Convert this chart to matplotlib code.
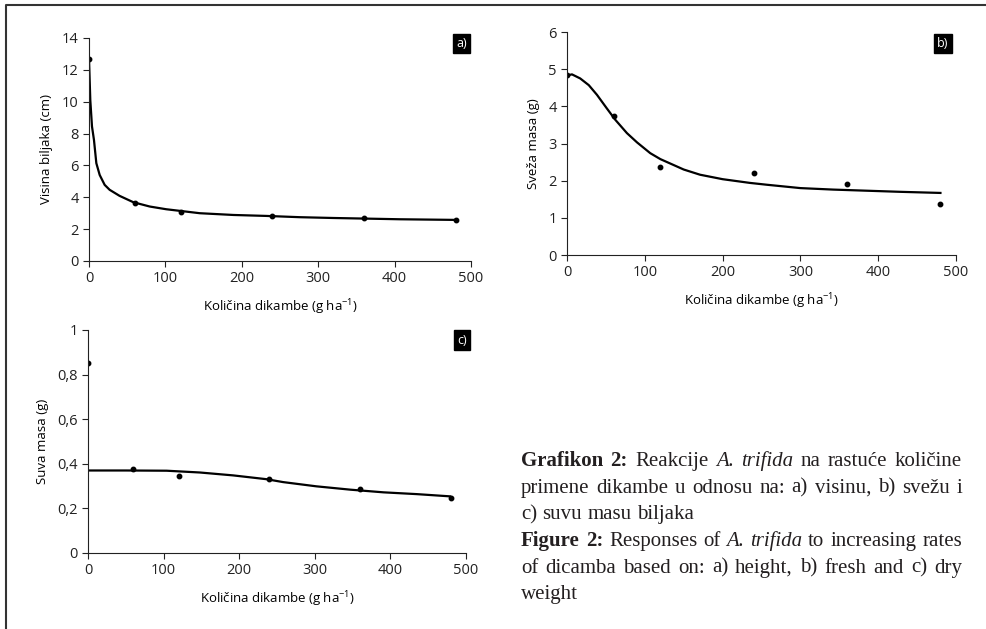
import matplotlib
matplotlib.use('Agg')
import matplotlib.pyplot as plt
from matplotlib.lines import Line2D
from matplotlib.ticker import FuncFormatter
import numpy as np

# ----------------------------------------------------------------------------------------------------------------------
#  DATA
# ----------------------------------------------------------------------------------------------------------------------
dose = [0, 60, 120, 240, 360, 480]

# a) plant height (cm)
height_obs   = [12.7, 3.65, 3.1, 2.85, 2.7, 2.6]
height_fit_x = [0, 1.7, 3.9, 6.5, 9.6, 14, 20.5, 27, 40, 58, 79.5, 101, 145, 189, 232, 276, 320, 364, 407, 480]
height_fit_y = [12.7, 10.1, 8.45, 7.6, 6.14, 5.4, 4.78, 4.47, 4.09, 3.69, 3.42, 3.25, 3.0, 2.89, 2.83, 2.75, 2.70, 2.66, 2.62, 2.58]

# b) fresh mass (g)
fresh_obs   = [4.83, 3.75, 2.37, 2.2, 1.9, 1.38]
fresh_fit_x = [0, 6.4, 17, 28, 38.5, 51, 62, 77, 90, 107, 120, 150, 171, 200, 235, 257, 300, 342, 385, 428, 480]
fresh_fit_y = [4.83, 4.86, 4.75, 4.57, 4.31, 3.95, 3.64, 3.28, 3.03, 2.74, 2.58, 2.30, 2.16, 2.04, 1.94, 1.89, 1.80, 1.76, 1.73, 1.70, 1.67]

# c) dry mass (g)
dry_obs   = [0.854, 0.376, 0.346, 0.333, 0.287, 0.245]
dry_fit_x = [0, 50, 104, 148, 192, 236, 258, 302, 347, 391, 435, 479]
dry_fit_y = [0.370, 0.370, 0.369, 0.361, 0.348, 0.331, 0.318, 0.299, 0.284, 0.272, 0.264, 0.254]

x_label = 'Količina dikambe (g ha$^{\\mathregular{-1}}$)'

caption_lines = [
    ([('Grafikon', 'b'), ('2:', 'b'), ('Reakcije', 'n'), ('A.', 'i'), ('trifida', 'i'), ('na', 'n'),
      ('rastuće', 'n'), ('količine', 'n')], True),
    ([('primene', 'n'), ('dikambe', 'n'), ('u', 'n'), ('odnosu', 'n'), ('na:', 'n'), ('a)', 'n'),
      ('visinu,', 'n'), ('b)', 'n'), ('svežu', 'n'), ('i', 'n')], True),
    ([('c)', 'n'), ('suvu', 'n'), ('masu', 'n'), ('biljaka', 'n')], False),
    ([('Figure', 'b'), ('2:', 'b'), ('Responses', 'n'), ('of', 'n'), ('A.', 'i'), ('trifida', 'i'),
      ('to', 'n'), ('increasing', 'n'), ('rates', 'n')], True),
    ([('of', 'n'), ('dicamba', 'n'), ('based', 'n'), ('on:', 'n'), ('a)', 'n'), ('height,', 'n'),
      ('b)', 'n'), ('fresh', 'n'), ('and', 'n'), ('c)', 'n'), ('dry', 'n')], True),
    ([('weight', 'n')], False),
]

# ----------------------------------------------------------------------------------------------------------------------
#  PLOT
# ----------------------------------------------------------------------------------------------------------------------
plt.rcParams['font.family'] = ['Open Sans', 'DejaVu Sans']
plt.rcParams['font.size'] = 9
plt.rcParams['axes.linewidth'] = 0.8
plt.rcParams['axes.edgecolor'] = '#222222'

W, H = 987, 629
fig = plt.figure(figsize=(W / 100, H / 100), dpi=100)


def setup_axis(ax, ylim, yticks, ylabel, tag, tag_pos, fmt=None):
    for s in ['top', 'right']:
        ax.spines[s].set_visible(False)
    ax.set_xlim(0, 500)
    ax.set_ylim(*ylim)
    ax.set_xticks([0, 100, 200, 300, 400, 500])
    ax.set_yticks(yticks)
    if fmt is not None:
        ax.yaxis.set_major_formatter(FuncFormatter(fmt))
    ax.tick_params(direction='out', length=4, width=0.8, labelsize=10.5, colors='#222222')
    ax.set_xlabel(x_label, fontsize=9.5, labelpad=8)
    ax.set_ylabel(ylabel, fontsize=9.5, labelpad=6)
    ax.text(tag_pos[0], tag_pos[1], tag, transform=ax.transAxes, ha='center', va='center',
            color='white', fontsize=9,
            bbox=dict(boxstyle='square,pad=0.25', facecolor='black', edgecolor='black'))


def comma_fmt(v, pos):
    if abs(v) < 1e-9:
        return '0'
    if abs(v - 1) < 1e-9:
        return '1'
    return ('%.1f' % v).replace('.', ',')


ax_a = fig.add_axes([89 / W, 1 - 261 / H, 382 / W, 223 / H])
ax_a.plot(height_fit_x, height_fit_y, color='black', linewidth=1.6)
ax_a.plot(dose, height_obs, 'o', color='black', markersize=3.2)
setup_axis(ax_a, (0, 14), range(0, 15, 2), 'Visina biljaka (cm)', 'a)', (0.975, 0.975))

ax_b = fig.add_axes([567 / W, 1 - 255 / H, 389 / W, 223 / H])
ax_b.plot(fresh_fit_x, fresh_fit_y, color='black', linewidth=1.6)
ax_b.plot(dose, fresh_obs, 'o', color='black', markersize=3.2)
setup_axis(ax_b, (0, 6), range(0, 7), 'Sveža masa (g)', 'b)', (0.966, 0.95))

ax_c = fig.add_axes([88 / W, 1 - 553 / H, 378 / W, 223 / H])
ax_c.plot(dry_fit_x, dry_fit_y, color='black', linewidth=1.6)
ax_c.plot(dose, dry_obs, 'o', color='black', markersize=3.2)
setup_axis(ax_c, (0, 1), [0, 0.2, 0.4, 0.6, 0.8, 1.0], 'Suva masa (g)', 'c)', (0.99, 0.955), comma_fmt)

# frame lines (top and left)
fig.add_artist(Line2D([6 / W, 6 / W, 1], [0, 1 - 5 / H, 1 - 5 / H], transform=fig.transFigure,
                      color='#333333', linewidth=1.5))

# caption, justified word by word
styles = {'n': dict(weight='normal', style='normal'),
          'b': dict(weight='bold', style='normal'),
          'i': dict(weight='normal', style='italic')}
cap_font = 15
cap_left, cap_right = 521, 962
baseline0, line_step = 466, 26.7
renderer = fig.canvas.get_renderer()
probe_1 = fig.text(0, 0, 'a a', fontsize=cap_font, family='Liberation Serif')
probe_2 = fig.text(0, 0, 'aa', fontsize=cap_font, family='Liberation Serif')
space = probe_1.get_window_extent(renderer).width - probe_2.get_window_extent(renderer).width
probe_1.remove()
probe_2.remove()
for li, (words, justify) in enumerate(caption_lines):
    y = 1 - (baseline0 + li * line_step) / H
    texts = []
    for w, st in words:
        t = fig.text(0, y, w, fontsize=cap_font, family='Liberation Serif', va='baseline', ha='left',
                     color='#231f20', **styles[st])
        texts.append(t)
    widths = [t.get_window_extent(renderer).width for t in texts]
    if justify and len(words) > 1:
        gap = (cap_right - cap_left - sum(widths)) / (len(words) - 1)
    else:
        gap = space
    x = cap_left
    for t, wd in zip(texts, widths):
        t.set_x(x / W)
        x += wd + gap

fig.savefig('out.png', dpi=100)
